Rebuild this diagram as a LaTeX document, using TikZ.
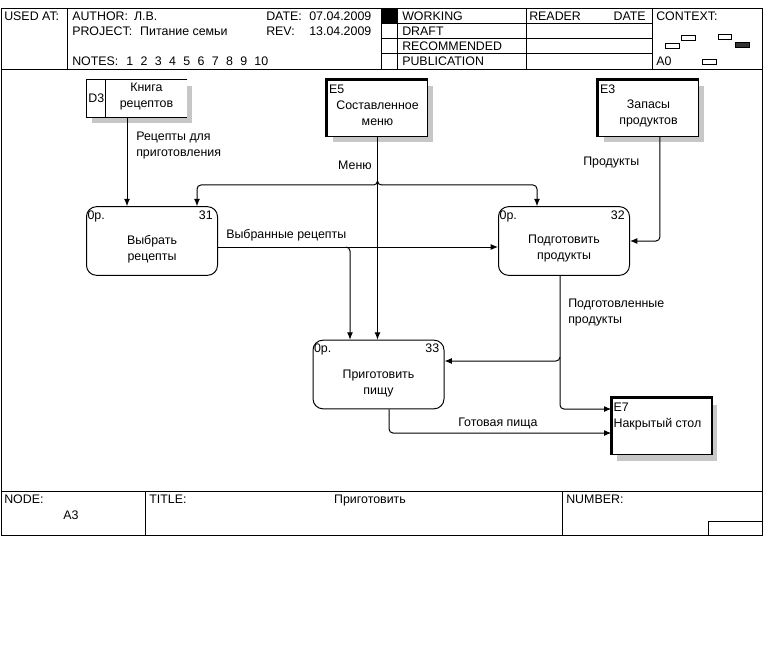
\documentclass[tikz,border=0pt]{standalone}
\usepackage{fontspec}
\setmainfont{Liberation Sans}
\usetikzlibrary{
		positioning,
		arrows.meta,
		shadows
	}
\tikzset{
		>=stealth
	}

\begin{document}
\begin{tikzpicture}[x=0.75pt,y=-0.75pt,-,auto,node distance=10mm,font=\fontsize{9.3}{12}\selectfont]
	\tikzstyle{point}=[coordinate]
	\tikzstyle{lbl}=[inner sep=0pt, align=left]
	\tikzstyle{hd}=[inner sep=0pt, anchor=base west]
	\tikzstyle{frame}=[line width=0.75pt]
	\tikzstyle{proc}=[draw, line width=0.75pt, rounded corners=7.5pt, minimum width=98.25pt, minimum height=51.5pt]
	\tikzstyle{ext}=[draw, fill=white, line width=1pt, minimum width=75pt, minimum height=42pt, general shadow={fill=black!22, shadow xshift=3.75pt, shadow yshift=-4.5pt}]
	\tikzstyle{store}=[fill=white, minimum width=75pt, minimum height=27.75pt, general shadow={fill=black!22, shadow xshift=3.75pt, shadow yshift=-4.5pt}]
	\tikzstyle{thickedge}=[line width=2.4pt]
	\tikzstyle{flow}=[line width=0.75pt, rounded corners=3pt, -{Latex[length=5.5pt,width=4.5pt]}]
	\useasboundingbox (0,0) rectangle (771,649);
	% Frame
	\draw[frame] (1,9) rectangle (762,535);
	\draw[frame] (1,69.5) -- (762,69.5) (1,491) -- (762,491);
	\draw[frame] (67,9) -- (67,69.5) (381,9) -- (381,69.5) (397,9) -- (397,69.5) (526,9) -- (526,69.5) (652,9) -- (652,69.5);
	\draw[frame] (381,24) -- (652,24) (381,39) -- (652,39) (381,54) -- (652,54);
	\fill (381,9) rectangle (397,24);
	\draw[frame] (145,491) -- (145,535) (562,491) -- (562,535) (708,521) rectangle (762,535);
	% Context
	\draw[frame] (681,36) rectangle (695,41) (718,35) rectangle (731,40) (665,44) rectangle (679,49) (702,60) rectangle (716,65);
	\draw[frame, fill=black!80] (735,43) rectangle (749,48);
	% Header texts
	\node[hd] (usedat)  at (4,21)   {USED AT:};
	\node[hd] (author)  at (72,21)  {AUTHOR:\hspace{4.5pt}Л.В.};
	\node[hd] (project) at (72,36)  {PROJECT:\hspace{6pt}Питание семьи};
	\node[hd] (notes)   at (72,66)  {NOTES:\hspace{6pt}1\hspace{5.5pt}2\hspace{5.5pt}3\hspace{5.5pt}4\hspace{5.5pt}5\hspace{5.5pt}6\hspace{5.5pt}7\hspace{5.5pt}8\hspace{5.5pt}9\hspace{5.5pt}10};
	\node[hd] (date)    at (266,21) {DATE:};
	\node[hd] (dateval) at (309,21) {07.04.2009};
	\node[hd] (rev)     at (266,36) {REV:};
	\node[hd] (revval)  at (309,36) {13.04.2009};
	\node[hd] (working) at (402,21) {WORKING};
	\node[hd] (draft)   at (402,36) {DRAFT};
	\node[hd] (recom)   at (402,51) {RECOMMENDED};
	\node[hd] (publ)    at (402,66) {PUBLICATION};
	\node[hd] (reader)  at (529,21) {READER};
	\node[hd, anchor=base east] (rdate) at (646,21) {DATE};
	\node[hd] (context) at (656,21) {CONTEXT:};
	\node[hd] (ctxnode) at (656,66) {A0};
	% Footer texts
	\node[hd] (nodelbl) at (4,503)   {NODE:};
	\node[hd] (nodenum) at (63,519)  {A3};
	\node[hd] (title)   at (149,503) {TITLE:};
	\node[hd, anchor=base] (titletxt) at (370,503) {Приготовить};
	\node[hd] (number)  at (566,503) {NUMBER:};
	% Data store and externals
	\node[store] (d3) at (137,98.5) {};
	\draw[frame] (d3.north east) -- (d3.north west) -- (d3.south west) -- (d3.south east);
	\draw[frame] ([xshift=14.25pt]d3.north west) -- ([xshift=14.25pt]d3.south west);
	\node[lbl, anchor=west] (d3id) at ([xshift=1pt]d3.west) {D3};
	\node[lbl, align=center] (d3txt) at ([xshift=7.1pt,yshift=1.5pt]d3.center) {Книга\\рецептов};
	\node[ext] (e5) at (377.5,108.5) {};
	\draw[thickedge] (e5.south west) -- (e5.north west) -- (e5.north east);
	\node[lbl, anchor=north west] (e5id) at ([xshift=1.5pt,yshift=-3.75pt]e5.north west) {E5};
	\node[lbl, align=center] (e5txt) at ([yshift=-3.4pt]e5.center) {Составленное\\меню};
	\node[ext] (e3) at (648.5,108.5) {};
	\draw[thickedge] (e3.south west) -- (e3.north west) -- (e3.north east);
	\node[lbl, anchor=north west] (e3id) at ([xshift=1.5pt,yshift=-3.75pt]e3.north west) {E3};
	\node[lbl, align=center] (e3txt) at ([yshift=-3.4pt]e3.center) {Запасы\\продуктов};
	\node[ext] (e7) at (662,426.5) {};
	\draw[thickedge] (e7.south west) -- (e7.north west) -- (e7.north east);
	\node[lbl, anchor=north west] (e7id) at ([xshift=1.5pt,yshift=-3.75pt]e7.north west) {E7};
	\node[lbl, anchor=north west] (e7txt) at ([yshift=-11.25pt]e7id.north west) {Накрытый стол};
	% Processes
	\node[proc] (p31) at (152,241) {};
	\node[lbl, anchor=north west] (p31a) at ([xshift=1pt,yshift=-3pt]p31.north west) {0р.};
	\node[lbl, anchor=north east] (p31b) at ([xshift=-3.75pt,yshift=-3pt]p31.north east) {31};
	\node[lbl, align=center] (p31txt) at ([yshift=-6pt]p31.center) {Выбрать\\рецепты};
	\node[proc] (p32) at (564,241) {};
	\node[lbl, anchor=north west] (p32a) at ([xshift=1pt,yshift=-3pt]p32.north west) {0р.};
	\node[lbl, anchor=north east] (p32b) at ([xshift=-3.75pt,yshift=-3pt]p32.north east) {32};
	\node[lbl, align=center] (p32txt) at ([yshift=-6pt]p32.center) {Подготовить\\продукты};
	\node[proc] (p33) at (378.5,374.5) {};
	\node[lbl, anchor=north west] (p33a) at ([xshift=1pt,yshift=-3pt]p33.north west) {0р.};
	\node[lbl, anchor=north east] (p33b) at ([xshift=-3.75pt,yshift=-3pt]p33.north east) {33};
	\node[lbl, align=center] (p33txt) at ([yshift=-6.4pt]p33.center) {Приготовить\\пищу};
	% Branch points
	\node[point] (mj)  at (377.5,185) {};
	\node[point] (m31) at (197,185)   {};
	\node[point] (m32) at (537,185)   {};
	\node[point] (vj)  at (350,247)   {};
	\node[point] (pj)  at (560,361)   {};
	% Flows
	\draw[flow] ([xshift=-7.5pt]d3.south) -- ([xshift=-7.5pt]d3.south |- p31.north);
	\draw[flow] (e5.south) -- (e5.south |- p33.north);
	\draw[flow] ([yshift=3pt]mj) |- (m31) -- (m31 |- p31.north);
	\draw[flow] ([yshift=3pt]mj) |- (m32) -- (m32 |- p32.north);
	\draw[flow] ([yshift=-4.5pt]p31.east) -- ([yshift=-4.5pt]p31.east -| p32.west);
	\draw[flow] ([xshift=-3pt]vj) -| (vj |- p33.north);
	\draw[flow] ([xshift=8.6pt]e3.south) |- (p32.east);
	\draw[flow] ([xshift=-3pt]p32.south) |- ([yshift=13.1pt]e7.west);
	\draw[flow] ([yshift=3pt]pj) |- (pj -| p33.east);
	\draw[flow] ([xshift=7.9pt]p33.south) |- ([yshift=-4.9pt]e7.west);
	% Flow labels
	\node[lbl, anchor=west] (fl1) at (136,146) {Рецепты для\\приготовления};
	\node[lbl, anchor=east] (fl2) at (372,165) {Меню};
	\node[lbl, anchor=west] (fl3) at (226,235) {Выбранные рецепты};
	\node[lbl, anchor=west] (fl4) at (583,163) {Продукты};
	\node[lbl, anchor=west] (fl5) at (568,313) {Подготовленные\\продукты};
	\node[lbl, anchor=west] (fl6) at (458,423) {Готовая пища};
\end{tikzpicture}
\end{document}
